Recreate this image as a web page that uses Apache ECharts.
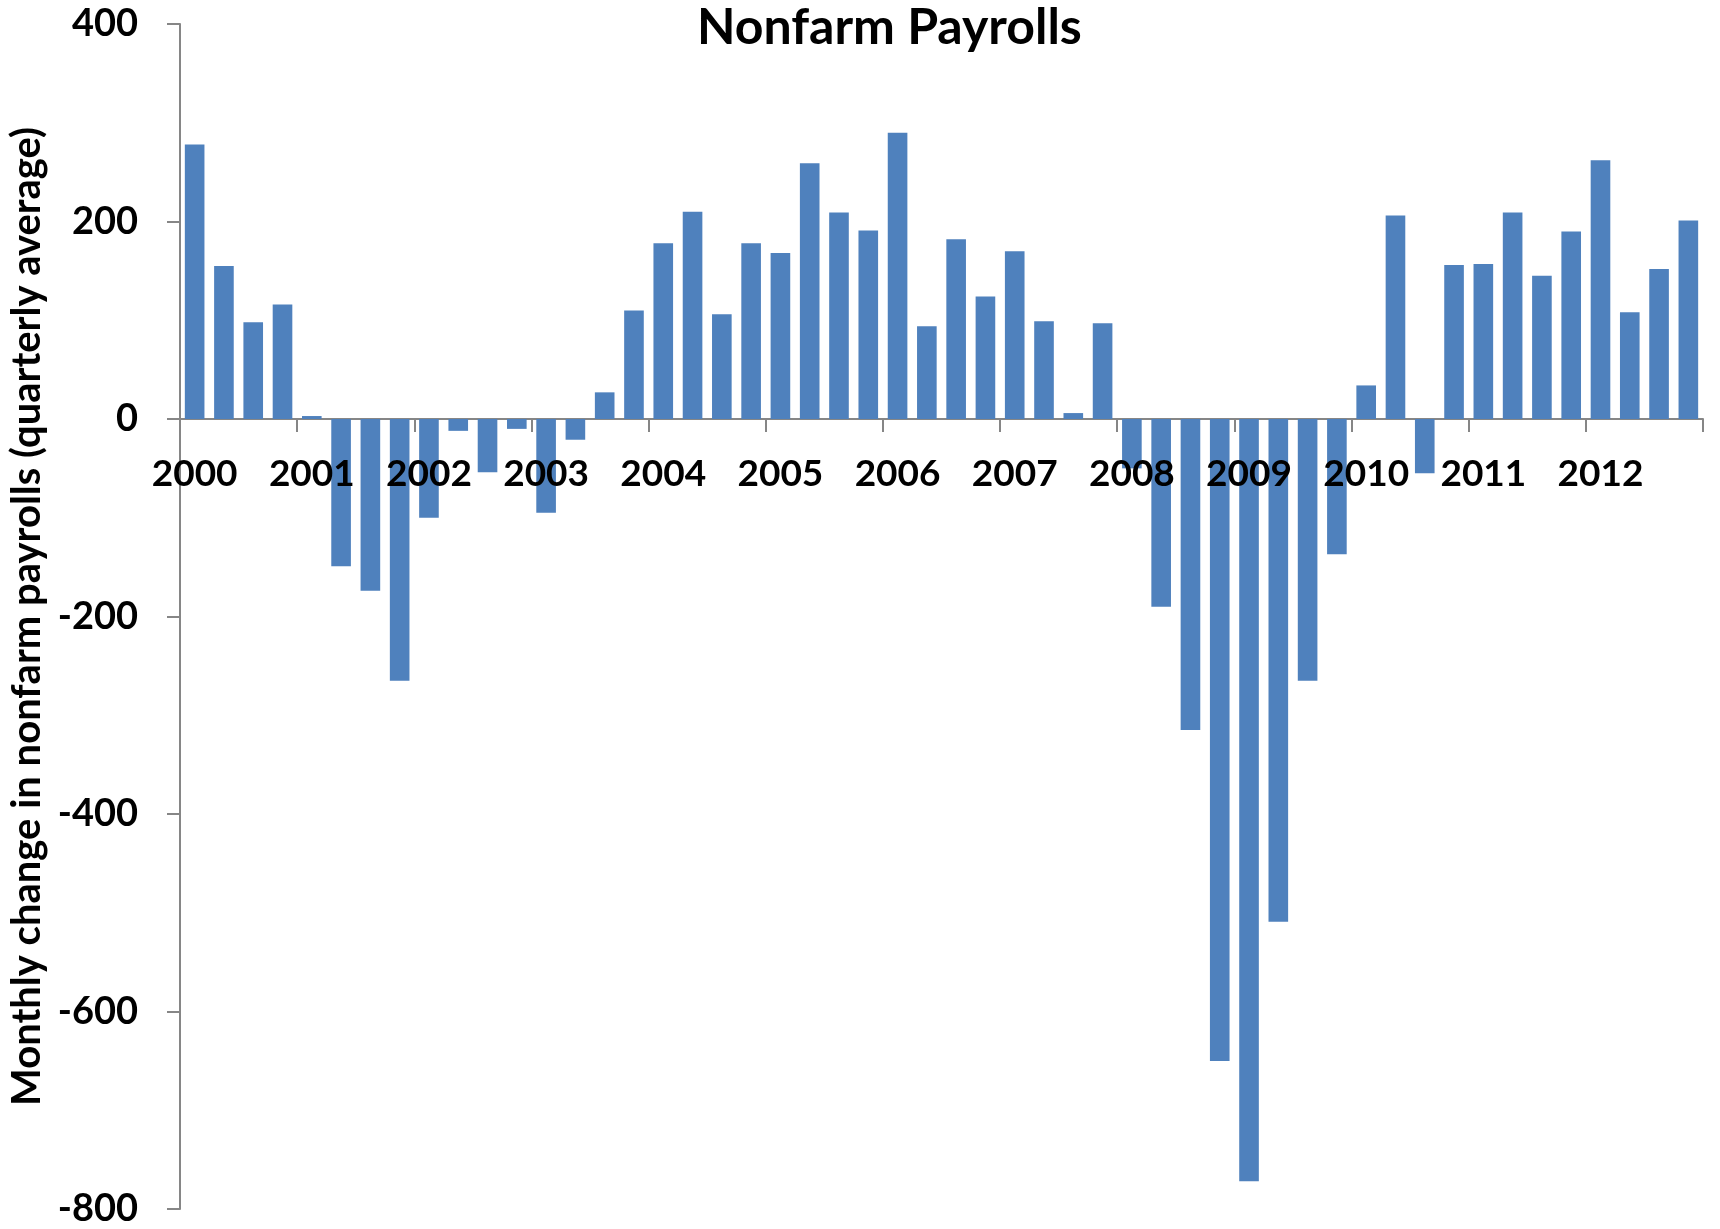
<!DOCTYPE html>
<html>
<head>
<meta charset="utf-8">
<script src="https://cdn.jsdelivr.net/npm/echarts@6/dist/echarts.min.js"></script>
<style>
html,body{margin:0;padding:0;background:#fff;}
#chart{width:1720px;height:1229px;}
</style>
</head>
<body>
<div id="chart"></div>
<script>
var years = ['2000','2001','2002','2003','2004','2005','2006','2007','2008','2009','2010','2011','2012'];
var quarters = ['Q1','Q2','Q3','Q4'];
var categories = [];
years.forEach(function(y){ quarters.forEach(function(q){ categories.push(y + q); }); });

var payrollChange = [
  278, 155, 98, 116,
  3, -149, -174, -265,
  -100, -12, -54, -10,
  -95, -21, 27, 110,
  178, 210, 106, 178,
  168, 259, 209, 191,
  290, 94, 182, 124,
  170, 99, 6, 97,
  -50, -190, -315, -650,
  -772, -509, -265, -137,
  34, 206, -55, 156,
  157, 209, 145, 190,
  262, 108, 152, 201
];

var yTicks = [-800, -600, -400, -200, 0, 200, 400];

var gridTop = 24, gridBottom = 20, H = 1229;
var yMin = yTicks[0], yMax = yTicks[yTicks.length - 1];
var plotH = H - gridTop - gridBottom;
var zeroOffset = -plotH * (0 - yMin) / (yMax - yMin);

var chart = echarts.init(document.getElementById('chart'));
var font = 'Lato';
var labelFormatter = function (v) { return v.slice(4) === 'Q1' ? v.slice(0, 4) : ''; };
chart.setOption({
  backgroundColor: '#ffffff',
  animation: false,
  title: {
    text: 'Nonfarm Payrolls',
    left: 692,
    top: -2,
    textStyle: { fontFamily: font, fontWeight: 'bold', fontSize: 50, color: '#000' }
  },
  grid: { left: 180, right: 17, top: gridTop, bottom: gridBottom, containLabel: false, outerBoundsMode: 'none' },
  xAxis: [{
    type: 'category',
    data: categories,
    boundaryGap: true,
    axisLine: { onZero: true, lineStyle: { color: '#868686', width: 2 } },
    axisTick: { show: true, interval: 3, length: 13, inside: false, lineStyle: { color: '#868686', width: 2 } },
    axisLabel: { show: false },
    splitLine: { show: false }
  }, {
    type: 'category',
    data: categories,
    position: 'bottom',
    offset: zeroOffset,
    z: 10,
    boundaryGap: true,
    axisLine: { show: false, onZero: false },
    axisTick: { show: false },
    axisLabel: {
      interval: 0,
      margin: 37,
      fontFamily: font, fontWeight: 'bold', fontSize: 37, color: '#000',
      formatter: labelFormatter
    },
    splitLine: { show: false }
  }],
  yAxis: {
    type: 'value',
    min: yMin,
    max: yMax,
    interval: 200,
    name: 'Monthly change in nonfarm payrolls (quarterly average)',
    nameLocation: 'middle',
    nameGap: 131,
    nameRotate: 90,
    nameTextStyle: { fontFamily: font, fontWeight: 'bold', fontSize: 40, color: '#000' },
    axisLine: { show: true, lineStyle: { color: '#868686', width: 2 } },
    axisTick: { show: true, length: 13, lineStyle: { color: '#868686', width: 2 } },
    axisLabel: { margin: 42, fontFamily: font, fontWeight: 'bold', fontSize: 38, color: '#000' },
    splitLine: { show: false }
  },
  series: [{
    type: 'bar',
    xAxisIndex: 0,
    z: 2,
    data: payrollChange,
    barCategoryGap: '33%',
    itemStyle: { color: '#4F81BD' }
  }]
});
</script>
</body>
</html>
